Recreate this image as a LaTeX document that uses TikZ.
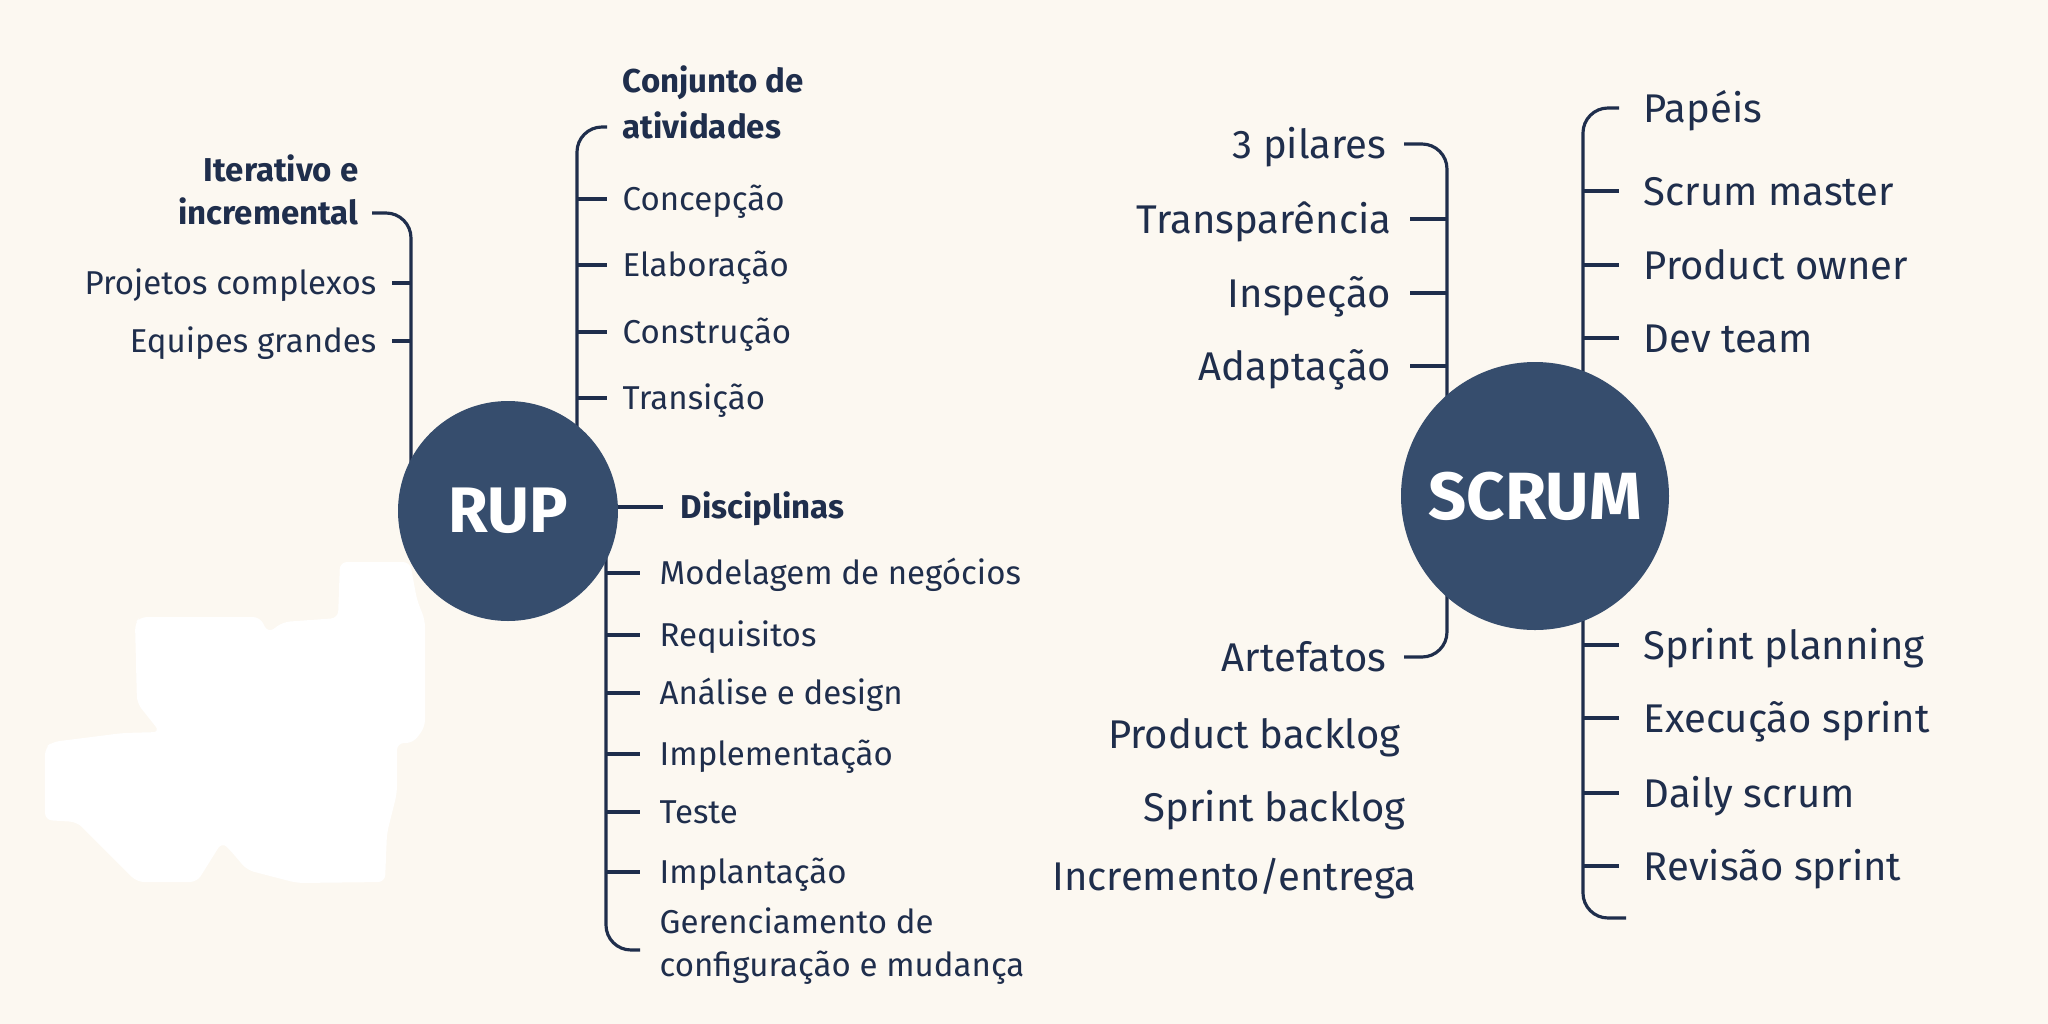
\documentclass[tikz,border=0pt]{standalone}
\usepackage{fontspec}
\setmainfont{Fira Sans}
\usetikzlibrary{calc,positioning}
\definecolor{paper}{HTML}{FCF8F1}
\definecolor{ink}{HTML}{1F2E4C}
\definecolor{hubblue}{HTML}{364D6D}
\newcommand{\rupsize}{\fontsize{9.4}{12}\selectfont}
\newcommand{\scrsize}{\fontsize{11.4}{15}\selectfont}
\pgfdeclarelayer{bg}
\pgfsetlayers{bg,main}
\tikzset{
  hub/.style={circle, fill=hubblue, text=white, inner sep=0pt},
  rleaf/.style={font=\rupsize, text=ink, inner sep=0pt, text height=0.23cm, text depth=0pt},
  rhead/.style={rleaf, font=\rupsize\bfseries},
  rmulti/.style={font=\rupsize, text=ink, inner sep=0pt},
  sleaf/.style={font=\scrsize, text=ink, inner sep=0pt, text height=0.28cm, text depth=0pt},
  branch/.style={ink, line width=0.9pt, rounded corners=0.25cm},
  tick/.style={ink, line width=0.9pt},
}

\begin{document}
\begin{tikzpicture}
\useasboundingbox (0,0) rectangle (20.48,-10.24);
% hubs
\node[hub, minimum size=2.20cm, font=\fontsize{18.3}{20}\selectfont\bfseries] (rup) at (5.08,-5.11) {RUP};
\node[hub, minimum size=2.68cm, font=\fontsize{19}{20}\selectfont\bfseries] (scrum) at (15.35,-4.96) {SCRUM};
\coordinate (spA) at ([xshift=-0.97cm]rup.center);
\coordinate (spB) at ([xshift=0.69cm]rup.center);
\coordinate (spC) at ([xshift=0.98cm]rup.center);
\coordinate (spD) at ([xshift=-0.88cm]scrum.center);
\coordinate (spF) at ([xshift=0.48cm]scrum.center);

% RUP
\node[rmulti, font=\rupsize\bfseries, align=right, anchor=base east] (iter) at (3.59,-2.24)
  {Iterativo e\\incremental};
\coordinate (iterJ) at ($(iter.base east)+(0.13,0.11)$);
\node[rleaf, anchor=east] (proj) at (3.77,-2.83) {Projetos complexos};
\node[rleaf, anchor=east] (equip) at (3.77,-3.41) {Equipes grandes};

\node[rmulti, font=\rupsize\bfseries, align=left, anchor=base west] (conj) at (6.22,-1.38)
  {Conjunto de\\[1pt]atividades};
\coordinate (conjJ) at ($(conj.base west)+(-0.15,0.11)$);
\foreach \nm/\y/\txt in {conc/-1.99/Concepção, elab/-2.65/Elaboração,
    cons/-3.32/Construção, tran/-3.98/Transição}
  \node[rleaf, anchor=west] (\nm) at (6.22,\y) {\txt};

\node[rhead, anchor=west] (disc) at (6.80,-5.07) {Disciplinas};
\foreach \nm/\y/\txt in {modl/-5.73/Modelagem de negócios, req/-6.35/Requisitos,
    anal/-6.93/Análise e design, impl/-7.54/Implementação, test/-8.12/Teste,
    impa/-8.72/Implantação}
  \node[rleaf, anchor=west] (\nm) at (6.59,\y) {\txt};
\node[rmulti, align=left, anchor=base west] (gcm) at (6.59,-9.76)
  {Gerenciamento de\\configuração e mudança};
\coordinate (gcmJ) at ($(gcm.base west)+(-0.19,0.26)$);

% SCRUM
\node[sleaf, anchor=east] (pil) at (13.87,-1.44) {3 pilares};
\foreach \nm/\y/\txt in {transp/-2.19/Transparência, insp/-2.93/Inspeção,
    adap/-3.66/Adaptação}
  \node[sleaf, anchor=east] (\nm) at (13.92,\y) {\txt};
\node[sleaf, anchor=east] (art) at (13.87,-6.57) {Artefatos};
\node[sleaf, anchor=east] (pbl) at (14.01,-7.34) {Product backlog};
\node[sleaf, anchor=east] (sbl) at (14.06,-8.07) {Sprint backlog};
\node[sleaf, anchor=east] (incr) at (14.17,-8.76) {Incremento/entrega};

\node[sleaf, anchor=west] (pap) at (16.43,-1.08) {Papéis};
\foreach \nm/\y/\txt in {sm/-1.91/Scrum master, po/-2.65/Product owner,
    dev/-3.38/Dev team}
  \node[sleaf, anchor=west] (\nm) at (16.43,\y) {\txt};
\foreach \nm/\y/\txt in {spl/-6.45/Sprint planning, exe/-7.18/Execução sprint,
    daily/-7.93/Daily scrum, rev/-8.66/Revisão sprint}
  \node[sleaf, anchor=west] (\nm) at (16.43,\y) {\txt};
\coordinate (cerJ) at (16.26,-9.18);

\begin{pgfonlayer}{bg}
  \fill[paper] (0,0) rectangle (20.48,-10.24);
  \fill[white, rounded corners=2pt] (3.40,-5.62) -- (4.10,-5.62) -- (4.17,-6.00)
    -- (4.25,-6.20) -- (4.25,-7.27) -- (4.13,-7.43) -- (3.97,-7.43) -- (3.97,-7.93)
    -- (3.87,-8.33) -- (3.85,-8.82) -- (2.97,-8.83) -- (2.47,-8.70) -- (2.30,-8.50)
    -- (2.22,-8.42) -- (1.97,-8.82) -- (1.37,-8.82) -- (0.77,-8.22) -- (0.45,-8.20)
    -- (0.45,-7.48) -- (0.52,-7.42) -- (1.23,-7.33) -- (1.60,-7.32) -- (1.37,-7.03)
    -- (1.35,-6.23) -- (1.40,-6.17) -- (2.60,-6.17) -- (2.68,-6.33) -- (2.83,-6.22)
    -- (3.38,-6.18) -- cycle;
  % RUP branches
  \draw[branch] (iterJ) -| (spA);
  \foreach \nm in {proj,equip}
    \draw[tick, shorten >=0.15cm] (\nm.east -| spA) -- (\nm.east);
  \draw[branch] (conjJ) -| (spB);
  \foreach \nm in {conc,elab,cons,tran}
    \draw[tick, shorten >=0.15cm] (\nm.west -| spB) -- (\nm.west);
  \draw[tick, shorten >=0.17cm] (rup.center |- disc.west) -- (disc.west);
  \draw[branch] (gcmJ) -| (spC);
  \foreach \nm in {modl,req,anal,impl,test,impa}
    \draw[tick, shorten >=0.19cm] (\nm.west -| spC) -- (\nm.west);
  % SCRUM branches
  \draw[branch, shorten <=0.17cm] (pil.east) -| (spD);
  \foreach \nm in {transp,insp,adap}
    \draw[tick, shorten >=0.18cm] (\nm.east -| spD) -- (\nm.east);
  \draw[branch, shorten <=0.17cm] (art.east) -| (spD);
  \draw[branch, shorten <=0.24cm] (pap.west) -| (spF);
  \foreach \nm in {sm,po,dev,spl,exe,daily,rev}
    \draw[tick, shorten >=0.24cm] (\nm.west -| spF) -- (\nm.west);
  \draw[branch] (cerJ) -| (spF);
\end{pgfonlayer}
\end{tikzpicture}
\end{document}
